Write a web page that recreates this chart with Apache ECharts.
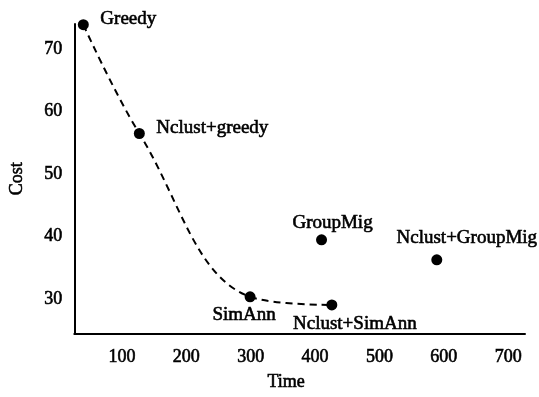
<!DOCTYPE html>
<html>
<head>
<meta charset="utf-8">
<script src="https://cdn.jsdelivr.net/npm/echarts@6/dist/echarts.min.js"></script>
<style>html,body{margin:0;padding:0;background:#fff}#c{width:539px;height:397px}</style>
</head>
<body>
<div id="c"></div>
<script>
// Data
const methods = ['Greedy', 'Nclust+greedy', 'SimAnn', 'Nclust+SimAnn', 'GroupMig', 'Nclust+GroupMig'];
const times = [40, 127, 299, 426, 410, 589];
const costs = [73.9, 56.5, 30.4, 29.1, 39.5, 36.3];
const curveMethods = ['Greedy', 'Nclust+greedy', 'SimAnn', 'Nclust+SimAnn'];
const xTicks = [100, 200, 300, 400, 500, 600, 700];
const yTicks = [30, 40, 50, 60, 70];

// Label placement (layout only)
const labelOffsets = {
  'Greedy': [45, -6],
  'Nclust+greedy': [73, -5],
  'SimAnn': [-6, 18],
  'Nclust+SimAnn': [23, 19],
  'GroupMig': [11, -17],
  'Nclust+GroupMig': [30, -22]
};

const font = 'Liberation Serif';
const txt = { fontFamily: font, fontSize: 18, fontWeight: 'normal', color: '#000', textBorderColor: '#000', textBorderWidth: 0.6 };
const lbl = Object.assign({}, txt, { fontSize: 19 });
const curveData = curveMethods.map(m => { const i = methods.indexOf(m); return [times[i], costs[i]]; });
const pointData = methods.map((m, i) => ({
  value: [times[i], costs[i]],
  name: m,
  label: { offset: labelOffsets[m] }
}));

const chart = echarts.init(document.getElementById('c'));
chart.setOption({
  animation: false,
  backgroundColor: '#fff',
  grid: { left: 70, right: 14, top: 24, bottom: 58 },
  xAxis: {
    type: 'value', min: 26, max: 726,
    name: 'Time', nameLocation: 'middle', nameGap: 40,
    nameTextStyle: Object.assign({}, txt, { padding: [0, 27, 0, 0] }),
    axisLine: { show: true, lineStyle: { color: '#000', width: 2 } },
    axisTick: { show: false },
    splitLine: { show: false },
    axisLabel: Object.assign({ customValues: xTicks, margin: 15 }, txt)
  },
  yAxis: {
    type: 'value', min: 24.5, max: 74,
    name: 'Cost', nameLocation: 'middle', nameGap: 48, nameRotate: 90,
    nameTextStyle: txt,
    axisLine: { show: true, onZero: false, lineStyle: { color: '#000', width: 2 } },
    axisTick: { show: false },
    splitLine: { show: false },
    axisLabel: Object.assign({ customValues: yTicks, margin: 12 }, txt)
  },
  series: [
    {
      type: 'line', data: curveData, smooth: 0.4, symbol: 'none',
      lineStyle: { color: '#000', width: 2, type: [7, 5] }, z: 1
    },
    {
      type: 'scatter', data: pointData, symbolSize: 11,
      itemStyle: { color: '#000', opacity: 1 },
      label: Object.assign({
        show: true, position: 'inside', formatter: p => p.name,
        align: 'center', verticalAlign: 'middle'
      }, lbl), z: 2
    }
  ]
});
</script>
</body>
</html>
